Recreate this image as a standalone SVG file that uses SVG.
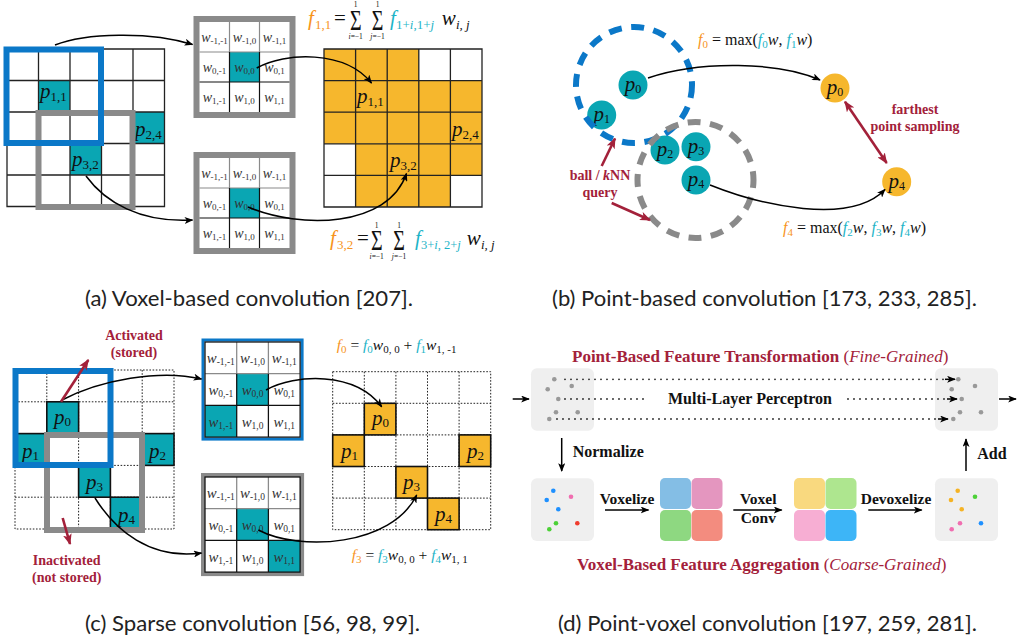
<svg xmlns="http://www.w3.org/2000/svg" width="1023" height="643" viewBox="0 0 1023 643">
<defs>
<style>
.sr{font-family:"Liberation Serif","Times New Roman",serif;fill:#111}
.it{font-style:italic}
.or{fill:#F7941D}
.tl{fill:#1DB4C7}
.lb{font-family:"Liberation Serif","Times New Roman",serif;font-weight:bold;fill:#A3213A}
.bk{font-family:"Liberation Serif","Times New Roman",serif;font-weight:bold;fill:#111}
.cap{font-family:Lato,"Liberation Sans",Arial,sans-serif;font-size:21px;fill:#222}
.tc{fill:#0AA6B3}
.oc{fill:#F6B72D}
.gl{fill:none;stroke:#222;stroke-width:1.3}
.dg{fill:none;stroke:#222;stroke-width:1;stroke-dasharray:1.6 1.6}
.cell{stroke:#111;stroke-width:1.6}
.cv{fill:none;stroke:#000;stroke-width:1.5}
.cr{fill:none;stroke:#A3213A;stroke-width:2.6}
.bb{fill:none;stroke:#0B78C8;stroke-width:6}
.gb{fill:none;stroke:#8A8A8A;stroke-width:6}
.pl{font-family:"Liberation Serif","Times New Roman",serif;font-size:21px;fill:#111}
.kl{font-family:"Liberation Serif","Times New Roman",serif;font-size:14px;fill:#333;font-style:italic}
.sb{font-style:normal}
.ptb{fill:#EFEFEF}
.dd{fill:none;stroke:#222;stroke-width:1.8;stroke-linecap:round;stroke-dasharray:0 6}
.gd{fill:#999}
</style>
<marker id="ah" viewBox="0 0 10 8" refX="9" refY="4" markerWidth="9" markerHeight="7" orient="auto" markerUnits="userSpaceOnUse"><path d="M0,0L10,4L0,8L2.5,4Z" fill="#000"/></marker>
<marker id="ahr" viewBox="0 0 10 8" refX="9" refY="4" markerWidth="11" markerHeight="9" orient="auto-start-reverse" markerUnits="userSpaceOnUse"><path d="M0,0L10,4L0,8L2.5,4Z" fill="#A3213A"/></marker>
<g id="kl">
<path d="M0,30H90M30,0V30M60,0V30" stroke="#8A8A8A" stroke-width="1.2"/>
<path d="M0,60H90M30,30V90M60,30V90" stroke="#111" stroke-width="1.2"/>
<text class="kl" x="15" y="20" text-anchor="middle">w<tspan class="sb" font-size="9" dy="2">-1,-1</tspan></text>
<text class="kl" x="45" y="20" text-anchor="middle">w<tspan class="sb" font-size="9" dy="2">-1,0</tspan></text>
<text class="kl" x="75" y="20" text-anchor="middle">w<tspan class="sb" font-size="9" dy="2">-1,1</tspan></text>
<text class="kl" x="15" y="50" text-anchor="middle">w<tspan class="sb" font-size="9" dy="2">0,-1</tspan></text>
<text class="kl" x="45" y="50" text-anchor="middle">w<tspan class="sb" font-size="9" dy="2">0,0</tspan></text>
<text class="kl" x="75" y="50" text-anchor="middle">w<tspan class="sb" font-size="9" dy="2">0,1</tspan></text>
<text class="kl" x="15" y="80" text-anchor="middle">w<tspan class="sb" font-size="9" dy="2">1,-1</tspan></text>
<text class="kl" x="45" y="80" text-anchor="middle">w<tspan class="sb" font-size="9" dy="2">1,0</tspan></text>
<text class="kl" x="75" y="80" text-anchor="middle">w<tspan class="sb" font-size="9" dy="2">1,1</tspan></text>
</g>
</defs>
<rect width="1023" height="643" fill="#fff"/>

<!-- ===== (a) ===== -->
<g id="a-input">
<rect x="7" y="49" width="157.5" height="157.5" fill="#fff"/>
<rect x="38.5" y="80.5" width="31.5" height="31.5" class="tc"/>
<rect x="133" y="112" width="31.5" height="31.5" class="tc"/>
<rect x="70" y="143.5" width="31.5" height="31.5" class="tc"/>
<path class="gl" d="M7,49H164.5V206.5H7ZM38.5,49V206.5M70,49V206.5M101.5,49V206.5M133,49V206.5M7,80.5H164.5M7,112H164.5M7,143.5H164.5M7,175H164.5"/>
<text class="pl" x="40" y="98"><tspan class="it">p</tspan><tspan font-size="13" dy="3">1,1</tspan></text>
<text class="pl" x="135" y="136"><tspan class="it">p</tspan><tspan font-size="13" dy="3">2,4</tspan></text>
<text class="pl" x="72" y="166"><tspan class="it">p</tspan><tspan font-size="13" dy="3">3,2</tspan></text>
<rect class="gb" x="38.5" y="113" width="94" height="94"/>
<rect class="bb" x="6.5" y="49.5" width="94.5" height="93.5"/>
</g>
<g id="a-kernel-top">
<rect x="196.5" y="19" width="96" height="96" fill="#fff" stroke="#8A8A8A" stroke-width="6"/>
<rect x="229.5" y="52" width="30" height="30" class="tc"/>
<use href="#kl" x="199.5" y="22"/>
</g>
<g id="a-kernel-bottom">
<rect x="196.5" y="155" width="96" height="96" fill="#fff" stroke="#8A8A8A" stroke-width="6"/>
<rect x="229.5" y="188" width="30" height="30" class="tc"/>
<use href="#kl" x="199.5" y="158"/>
</g>
<g id="a-output">
<rect x="324" y="49" width="158" height="158" fill="#fff"/>
<rect x="324" y="49" width="94.8" height="31.6" class="oc"/>
<rect x="324" y="80.6" width="158" height="63.2" class="oc"/>
<rect x="355.6" y="143.8" width="126.4" height="31.6" class="oc"/>
<rect x="355.6" y="175.4" width="94.8" height="31.6" class="oc"/>
<path class="gl" d="M324,49H482V207H324ZM355.6,49V207M387.2,49V207M418.8,49V207M450.4,49V207M324,80.6H482M324,112.2H482M324,143.8H482M324,175.4H482"/>
<text class="pl" x="357" y="103"><tspan class="it">p</tspan><tspan font-size="13" dy="3">1,1</tspan></text>
<text class="pl" x="452" y="136"><tspan class="it">p</tspan><tspan font-size="13" dy="3">2,4</tspan></text>
<text class="pl" x="390" y="167"><tspan class="it">p</tspan><tspan font-size="13" dy="3">3,2</tspan></text>
</g>
<g id="a-formula-top" class="sr">
<text x="308" y="25" class="it or" font-size="21">f</text>
<text x="315" y="29" class="or" font-size="13">1,1</text>
<text x="334" y="25" font-size="21">=</text>
<text transform="translate(355.7,30) scale(1,1.5)" text-anchor="middle" font-size="20">Σ</text>
<text transform="translate(377.5,30) scale(1,1.5)" text-anchor="middle" font-size="20">Σ</text>
<text x="355.7" y="7" text-anchor="middle" font-size="7.5">1</text>
<text x="377.5" y="7" text-anchor="middle" font-size="7.5">1</text>
<text x="355.7" y="39" text-anchor="middle" font-size="7.5"><tspan class="it">i</tspan>=−1</text>
<text x="377.5" y="39" text-anchor="middle" font-size="7.5"><tspan class="it">j</tspan>=−1</text>
<text x="390" y="25" class="it tl" font-size="21">f</text>
<text x="396" y="29" class="tl" font-size="13">1+<tspan class="it">i</tspan>,1+<tspan class="it">j</tspan></text>
<text x="441.7" y="25" class="it" font-size="21">w</text>
<text x="456" y="29" class="it" font-size="13">i, j</text>
</g>
<g id="a-formula-bottom" class="sr">
<text x="330" y="245" class="it or" font-size="21">f</text>
<text x="337" y="249" class="or" font-size="13">3,2</text>
<text x="357" y="245" font-size="21">=</text>
<text transform="translate(376.7,250) scale(1,1.5)" text-anchor="middle" font-size="20">Σ</text>
<text transform="translate(399,250) scale(1,1.5)" text-anchor="middle" font-size="20">Σ</text>
<text x="376.7" y="227.5" text-anchor="middle" font-size="7.5">1</text>
<text x="399" y="227.5" text-anchor="middle" font-size="7.5">1</text>
<text x="376.7" y="259" text-anchor="middle" font-size="7.5"><tspan class="it">i</tspan>=−1</text>
<text x="399" y="259" text-anchor="middle" font-size="7.5"><tspan class="it">j</tspan>=−1</text>
<text x="415" y="245" class="it tl" font-size="21">f</text>
<text x="421" y="249" class="tl" font-size="12.5">3+<tspan class="it">i</tspan>, 2+<tspan class="it">j</tspan></text>
<text x="466.7" y="245" class="it" font-size="21">w</text>
<text x="481" y="249" class="it" font-size="13">i, j</text>
</g>

<!-- ===== (b) ===== -->
<g id="b-points">
<circle cx="633" cy="85" r="14.5" class="tc"/>
<circle cx="601.7" cy="115" r="14.5" class="tc"/>
<circle cx="665" cy="150" r="14.5" class="tc"/>
<circle cx="696" cy="146.7" r="14.5" class="tc"/>
<circle cx="696" cy="180" r="14.5" class="tc"/>
<text class="pl" font-size="19" x="633" y="91" text-anchor="middle"><tspan class="it">p</tspan><tspan font-size="12" dy="2">0</tspan></text>
<text class="pl" font-size="19" x="601.7" y="121" text-anchor="middle"><tspan class="it">p</tspan><tspan font-size="12" dy="2">1</tspan></text>
<text class="pl" font-size="19" x="665" y="156" text-anchor="middle"><tspan class="it">p</tspan><tspan font-size="12" dy="2">2</tspan></text>
<text class="pl" font-size="19" x="696" y="152.7" text-anchor="middle"><tspan class="it">p</tspan><tspan font-size="12" dy="2">3</tspan></text>
<text class="pl" font-size="19" x="696" y="186" text-anchor="middle"><tspan class="it">p</tspan><tspan font-size="12" dy="2">4</tspan></text>
</g>
<g id="b-ball-blue"><circle cx="634" cy="85" r="58" fill="none" stroke="#0B78C8" stroke-width="6" stroke-dasharray="13 9.5"/></g>
<g id="b-ball-gray"><circle cx="695.5" cy="180" r="58" fill="none" stroke="#8A8A8A" stroke-width="6" stroke-dasharray="13 9.5" stroke-dashoffset="5"/></g>
<g id="b-out-p0">
<circle cx="835" cy="88" r="14.5" class="oc"/>
<text class="pl" font-size="19" x="835" y="94" text-anchor="middle"><tspan class="it">p</tspan><tspan font-size="12" dy="2">0</tspan></text>
</g>
<g id="b-out-p4">
<circle cx="896.7" cy="181.7" r="14.5" class="oc"/>
<text class="pl" font-size="19" x="896.7" y="187.7" text-anchor="middle"><tspan class="it">p</tspan><tspan font-size="12" dy="2">4</tspan></text>
</g>
<g id="b-labels">
<text x="698" y="45" class="sr" font-size="16"><tspan class="it or">f</tspan><tspan class="or" font-size="11" dy="3">0</tspan><tspan dy="-3"> = max(</tspan><tspan class="it tl">f</tspan><tspan class="tl" font-size="11" dy="3">0</tspan><tspan class="it" dy="-3">w</tspan><tspan>, </tspan><tspan class="it tl">f</tspan><tspan class="tl" font-size="11" dy="3">1</tspan><tspan class="it" dy="-3">w</tspan><tspan>)</tspan></text>
<text x="783" y="233" class="sr" font-size="16"><tspan class="it or">f</tspan><tspan class="or" font-size="11" dy="3">4</tspan><tspan dy="-3"> = max(</tspan><tspan class="it tl">f</tspan><tspan class="tl" font-size="11" dy="3">2</tspan><tspan class="it" dy="-3">w</tspan><tspan>, </tspan><tspan class="it tl">f</tspan><tspan class="tl" font-size="11" dy="3">3</tspan><tspan class="it" dy="-3">w</tspan><tspan>, </tspan><tspan class="it tl">f</tspan><tspan class="tl" font-size="11" dy="3">4</tspan><tspan class="it" dy="-3">w</tspan><tspan>)</tspan></text>
<text class="lb" font-size="14" x="915" y="114" text-anchor="middle">farthest</text>
<text class="lb" font-size="14" x="915" y="131" text-anchor="middle">point sampling</text>
<text class="lb" font-size="14" x="600" y="180" text-anchor="middle">ball / <tspan font-style="italic">k</tspan>NN</text>
<text class="lb" font-size="14" x="600" y="197" text-anchor="middle">query</text>
</g>

<!-- ===== (c) ===== -->
<g id="c-input">
<path class="dg" d="M15,370H174V529H15ZM46.8,370V529M78.6,370V529M110.4,370V529M142.2,370V529M15,401.8H174M15,433.6H174M15,465.4H174M15,497.2H174"/>
<rect x="46.8" y="401.8" width="31.8" height="31.8" class="tc cell"/>
<rect x="15" y="433.6" width="31.8" height="31.8" class="tc cell"/>
<rect x="142.2" y="433.6" width="31.8" height="31.8" class="tc cell"/>
<rect x="78.6" y="465.4" width="31.8" height="31.8" class="tc cell"/>
<rect x="110.4" y="497.2" width="31.8" height="31.8" class="tc cell"/>
<text class="pl" x="54" y="424"><tspan class="it">p</tspan><tspan font-size="13" dy="2">0</tspan></text>
<text class="pl" x="22" y="458"><tspan class="it">p</tspan><tspan font-size="13" dy="2">1</tspan></text>
<text class="pl" x="149" y="458"><tspan class="it">p</tspan><tspan font-size="13" dy="2">2</tspan></text>
<text class="pl" x="86" y="489"><tspan class="it">p</tspan><tspan font-size="13" dy="2">3</tspan></text>
<text class="pl" x="118" y="522"><tspan class="it">p</tspan><tspan font-size="13" dy="2">4</tspan></text>
<rect class="gb" x="47" y="435" width="95" height="95"/>
<rect class="bb" x="15.5" y="371" width="95" height="94"/>
</g>
<g id="c-kernel-top">
<rect x="203" y="340" width="99.1" height="99.1" fill="#fff" stroke="#0B78C8" stroke-width="3"/>
<g transform="translate(205,342) scale(1.0567)">
<rect x="30" y="30" width="30" height="30" class="tc"/>
<rect x="0" y="60" width="30" height="30" class="tc"/>
<use href="#kl"/>
<rect x="0" y="0" width="90" height="90" fill="none" stroke="#111" stroke-width="1.2"/>
</g>
</g>
<g id="c-kernel-bottom">
<rect x="203" y="475" width="99.1" height="99.1" fill="#fff" stroke="#8A8A8A" stroke-width="4"/>
<g transform="translate(205,477) scale(1.0567)">
<rect x="30" y="30" width="30" height="30" class="tc"/>
<rect x="60" y="60" width="30" height="30" class="tc"/>
<use href="#kl"/>
<rect x="0" y="0" width="90" height="90" fill="none" stroke="#111" stroke-width="1.2"/>
</g>
</g>
<g id="c-output">
<path class="dg" d="M332.7,371.7H490.7V529.7H332.7ZM364.3,371.7V529.7M395.9,371.7V529.7M427.5,371.7V529.7M459.1,371.7V529.7M332.7,403.3H490.7M332.7,434.9H490.7M332.7,466.5H490.7M332.7,498.1H490.7"/>
<rect x="364.3" y="403.3" width="31.6" height="31.6" class="oc cell"/>
<rect x="332.7" y="434.9" width="31.6" height="31.6" class="oc cell"/>
<rect x="459.1" y="434.9" width="31.6" height="31.6" class="oc cell"/>
<rect x="395.9" y="466.5" width="31.6" height="31.6" class="oc cell"/>
<rect x="427.5" y="498.1" width="31.6" height="31.6" class="oc cell"/>
<text class="pl" x="372" y="425"><tspan class="it">p</tspan><tspan font-size="13" dy="2">0</tspan></text>
<text class="pl" x="341" y="458"><tspan class="it">p</tspan><tspan font-size="13" dy="2">1</tspan></text>
<text class="pl" x="467" y="458"><tspan class="it">p</tspan><tspan font-size="13" dy="2">2</tspan></text>
<text class="pl" x="403" y="489"><tspan class="it">p</tspan><tspan font-size="13" dy="2">3</tspan></text>
<text class="pl" x="435" y="521"><tspan class="it">p</tspan><tspan font-size="13" dy="2">4</tspan></text>
</g>
<g id="c-labels">
<text x="336.7" y="350" class="sr" font-size="15.5"><tspan class="it or">f</tspan><tspan class="or" font-size="11" dy="3">0</tspan><tspan dy="-3"> = </tspan><tspan class="it tl">f</tspan><tspan class="tl" font-size="11" dy="3">0</tspan><tspan class="it" dy="-3">w</tspan><tspan font-size="11" dy="3">0, 0</tspan><tspan dy="-3"> + </tspan><tspan class="it tl">f</tspan><tspan class="tl" font-size="11" dy="3">1</tspan><tspan class="it" dy="-3">w</tspan><tspan font-size="11" dy="3">1, -1</tspan></text>
<text x="351.7" y="560" class="sr" font-size="15.5"><tspan class="it or">f</tspan><tspan class="or" font-size="11" dy="3">3</tspan><tspan dy="-3"> = </tspan><tspan class="it tl">f</tspan><tspan class="tl" font-size="11" dy="3">3</tspan><tspan class="it" dy="-3">w</tspan><tspan font-size="11" dy="3">0, 0</tspan><tspan dy="-3"> + </tspan><tspan class="it tl">f</tspan><tspan class="tl" font-size="11" dy="3">4</tspan><tspan class="it" dy="-3">w</tspan><tspan font-size="11" dy="3">1, 1</tspan></text>
<text class="lb" font-size="14" x="134" y="340" text-anchor="middle">Activated</text>
<text class="lb" font-size="14" x="134" y="357" text-anchor="middle">(stored)</text>
<text class="lb" font-size="14" x="66.7" y="565" text-anchor="middle">Inactivated</text>
<text class="lb" font-size="14" x="66.7" y="582" text-anchor="middle">(not stored)</text>
</g>

<!-- ===== (d) ===== -->
<g id="d-points-in">
<rect class="ptb" x="531" y="368.3" width="63" height="62.4" rx="6"/>
<circle class="gd" cx="554.3" cy="379.3" r="2.3"/><circle class="gd" cx="571.7" cy="386" r="2.3"/><circle class="gd" cx="547.7" cy="389.3" r="2.3"/><circle class="gd" cx="558.3" cy="399" r="2.3"/><circle class="gd" cx="556" cy="412.3" r="2.3"/><circle class="gd" cx="577.7" cy="412.3" r="2.3"/><circle class="gd" cx="549.3" cy="419" r="2.3"/>
</g>
<g id="d-points-out">
<rect class="ptb" x="935" y="368.3" width="63" height="62.4" rx="6"/>
<circle class="gd" cx="958.3" cy="379.3" r="2.3"/><circle class="gd" cx="975" cy="386" r="2.3"/><circle class="gd" cx="951.7" cy="389.3" r="2.3"/><circle class="gd" cx="961.7" cy="399" r="2.3"/><circle class="gd" cx="960" cy="412.3" r="2.3"/><circle class="gd" cx="981" cy="412.3" r="2.3"/><circle class="gd" cx="953.3" cy="419" r="2.3"/>
</g>
<g id="d-norm-points">
<rect class="ptb" x="531" y="478.3" width="63" height="62.7" rx="6"/>
<circle cx="553.3" cy="490.7" r="2.3" fill="#1E90FF"/><circle cx="546.7" cy="500" r="2.3" fill="#1E90FF"/><circle cx="571" cy="496.7" r="2.3" fill="#F06EB0"/><circle cx="558.3" cy="509.3" r="2.3" fill="#1E90FF"/><circle cx="556" cy="523.3" r="2.3" fill="#4CD137"/><circle cx="577.3" cy="523.3" r="2.3" fill="#F03C2E"/><circle cx="549.3" cy="529.3" r="2.3" fill="#4CD137"/>
</g>
<g id="d-devox-points">
<rect class="ptb" x="935" y="478.3" width="63" height="62.7" rx="6"/>
<circle cx="957.7" cy="490.7" r="2.3" fill="#F5B324"/><circle cx="951" cy="500" r="2.3" fill="#F5B324"/><circle cx="975" cy="496.7" r="2.3" fill="#4CD137"/><circle cx="961.7" cy="509.3" r="2.3" fill="#F5B324"/><circle cx="960" cy="523.3" r="2.3" fill="#F06EB0"/><circle cx="981" cy="523.3" r="2.3" fill="#1E90FF"/><circle cx="951.7" cy="529.3" r="2.3" fill="#F06EB0"/>
</g>
<g id="d-voxels-1">
<rect x="660" y="478" width="31" height="31" rx="5" fill="#84BEE5"/>
<rect x="691.5" y="478" width="31" height="31" rx="5" fill="#E496BF"/>
<rect x="660" y="510" width="31" height="31" rx="5" fill="#8ED881"/>
<rect x="691.5" y="510" width="31" height="31" rx="5" fill="#F38C7F"/>
</g>
<g id="d-voxels-2">
<rect x="794" y="478" width="31" height="31" rx="5" fill="#F9D97F"/>
<rect x="825.5" y="478" width="31" height="31" rx="5" fill="#AEE68F"/>
<rect x="794" y="510" width="31" height="31" rx="5" fill="#F7AED3"/>
<rect x="825.5" y="510" width="31" height="31" rx="5" fill="#3DB5F7"/>
</g>
<g id="d-labels">
<text class="lb" font-size="17" x="572" y="362">Point-Based Feature Transformation <tspan font-weight="normal">(<tspan font-style="italic">Fine-Grained</tspan>)</tspan></text>
<text class="lb" font-size="17" x="577" y="570">Voxel-Based Feature Aggregation <tspan font-weight="normal">(<tspan font-style="italic">Coarse-Grained</tspan>)</tspan></text>
<text class="bk" font-size="16" x="750" y="404" text-anchor="middle">Multi-Layer Perceptron</text>
<text class="bk" font-size="16" x="572.7" y="457">Normalize</text>
<text class="bk" font-size="16" x="977.3" y="459">Add</text>
<text class="bk" font-size="15.5" x="627" y="504" text-anchor="middle">Voxelize</text>
<text class="bk" font-size="15.5" x="758.3" y="504" text-anchor="middle">Voxel</text>
<text class="bk" font-size="15.5" x="758.3" y="523" text-anchor="middle">Conv</text>
<text class="bk" font-size="15.5" x="896" y="504" text-anchor="middle">Devoxelize</text>
</g>

<!-- ===== connectors ===== -->
<g id="connectors">
<path class="cv" marker-end="url(#ah)" d="M55,45C85,33 150,31 192.5,44.5"/>
<path class="cv" marker-end="url(#ah)" d="M86,176C105,202 140,223 192.5,220"/>
<path class="cv" marker-end="url(#ah)" d="M256.7,68C285,52 345,50 371.5,83"/>
<path class="cv" marker-end="url(#ah)" d="M248,207C300,229 388,228 406.5,173.5"/>
<path class="cv" marker-end="url(#ah)" d="M648,78C700,60 780,62 820,80"/>
<path class="cv" marker-end="url(#ah)" d="M710,185C760,205 850,226 885,189.5"/>
<path class="cr" marker-start="url(#ahr)" marker-end="url(#ahr)" d="M845,101.7L886.7,163"/>
<path class="cr" marker-end="url(#ahr)" d="M601.7,166L615,138.5"/>
<path class="cr" marker-end="url(#ahr)" d="M611.7,203L650,220"/>
<path class="cv" marker-end="url(#ah)" d="M62,400C100,380 160,369 201.5,379"/>
<path class="cv" marker-end="url(#ah)" d="M95,498C115,530 150,560 201.5,553"/>
<path class="cr" marker-end="url(#ahr)" d="M61,401.7L88.3,360"/>
<path class="cr" marker-end="url(#ahr)" d="M62.7,518L70,544"/>
<path class="cv" marker-end="url(#ah)" d="M266,390C295,374 355,371 381.7,406.7"/>
<path class="cv" marker-end="url(#ah)" d="M258.3,530C300,552 392,546 416.7,495"/>
<path class="cv" marker-end="url(#ah)" d="M512.7,399H529"/>
<path class="cv" marker-end="url(#ah)" d="M999,399H1016"/>
<path class="dd" d="M565,379.3H946"/><path class="cv" stroke-width="0" marker-end="url(#ah)" d="M945,379.3H955"/>
<path class="dd" d="M565,399H647"/>
<path class="dd" d="M848,399H948"/><path class="cv" stroke-width="0" marker-end="url(#ah)" d="M947,399H957"/>
<path class="dd" d="M557,419H939"/><path class="cv" stroke-width="0" marker-end="url(#ah)" d="M938,419H948"/>
<path class="cv" marker-end="url(#ah)" d="M561.7,438V471"/>
<path class="cv" marker-end="url(#ah)" d="M966,471V439"/>
<path class="cv" stroke-width="1.8" marker-end="url(#ah)" d="M605,510H648.5"/>
<path class="cv" stroke-width="1.8" marker-end="url(#ah)" d="M733.3,510H781.7"/>
<path class="cv" stroke-width="1.8" marker-end="url(#ah)" d="M868.3,510H921.7"/>
</g>

<!-- captions -->
<text class="cap" x="85" y="306" textLength="328" lengthAdjust="spacingAndGlyphs">(a) Voxel-based convolution [207].</text>
<text class="cap" x="552" y="306" textLength="425" lengthAdjust="spacingAndGlyphs">(b) Point-based convolution [173, 233, 285].</text>
<text class="cap" x="85" y="631" textLength="335" lengthAdjust="spacingAndGlyphs">(c) Sparse convolution [56, 98, 99].</text>
<text class="cap" x="558" y="631" textLength="419" lengthAdjust="spacingAndGlyphs">(d) Point-voxel convolution [197, 259, 281].</text>
</svg>
